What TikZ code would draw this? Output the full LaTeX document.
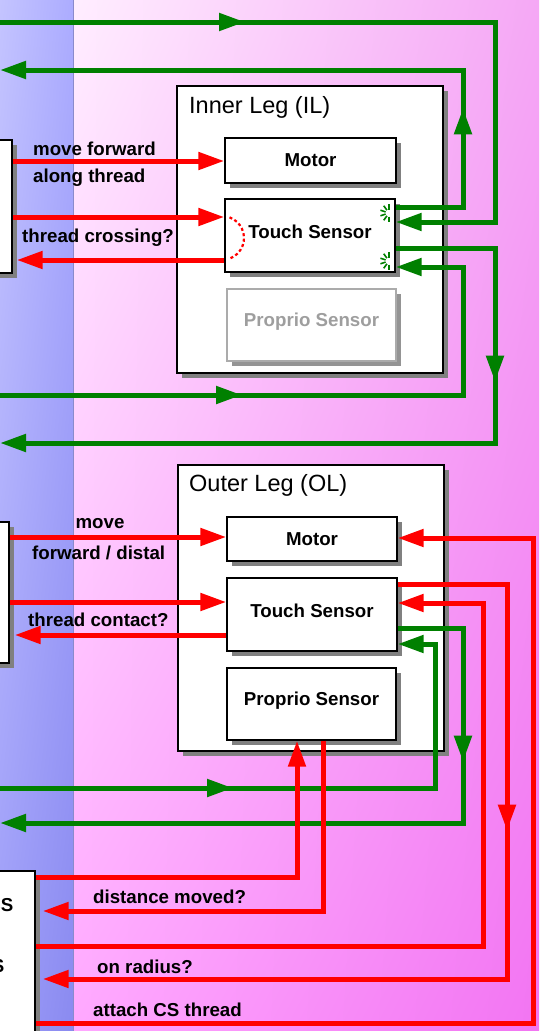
\documentclass[tikz,border=0pt]{standalone}
\usepackage{fontspec}
\setmainfont{Liberation Sans}
\usetikzlibrary{arrows.meta,shadows,shadings,decorations.markings}
\definecolor{gcol}{HTML}{008000}
\definecolor{rcol}{HTML}{FF0000}
\definecolor{pUL}{HTML}{FFEEFF}
\definecolor{pUR}{HTML}{F5A8F5}
\definecolor{pLL}{HTML}{FFA8FF}
\definecolor{pLR}{HTML}{F274F2}
\definecolor{bUL}{HTML}{C4C4FF}
\definecolor{bUR}{HTML}{ACACFF}
\definecolor{bLL}{HTML}{9C9CF8}
\definecolor{bLR}{HTML}{8A8AF0}
\newcommand\lblfont{\fontsize{18.7}{22}\selectfont\bfseries}
\newcommand\ttlfont{\fontsize{23.5}{27}\selectfont}
\tikzset{
  box/.style={draw=black, line width=1.4pt, fill=white, inner sep=0pt, font=\lblfont,
    drop shadow={shadow xshift=5pt, shadow yshift=-5pt, fill=black!50, opacity=1}},
  greybox/.style={draw=black!33, line width=1.4pt, fill=white, inner sep=0pt, font=\lblfont, text=black!38,
    drop shadow={shadow xshift=5pt, shadow yshift=-5pt, fill=black!42, opacity=1}},
  gl/.style={color=gcol, line width=5pt},
  rl/.style={color=rcol, line width=5pt},
  tip/.style={-{Triangle[length=26pt,width=17pt]}},
  mid/.style={postaction={decorate, decoration={markings, mark=at position #1 with {\arrow{Triangle[length=26pt,width=17pt]}}}}},
  lbl/.style={font=\lblfont, inner sep=0pt, anchor=base west},
  ttl/.style={font=\ttlfont, inner sep=0pt, anchor=base west},
  burst/.style={line width=2.2pt, dash pattern=on 3pt off 2.5pt},
  spark/.style={gcol, line width=1.6pt},
}
\begin{document}
\begin{tikzpicture}[x=1pt,y=-1pt]
\useasboundingbox (0,0) rectangle (539,1031);
\clip (0,0) rectangle (539,1031);
% background
\shade[upper left=bUL, upper right=bUR, lower left=bLL, lower right=bLR] (0,0) rectangle (73,1031);
\shade[upper left=pUL, upper right=pUR, lower left=pLL, lower right=pLR] (73,0) rectangle (539,1031);
\draw[line width=0.8pt, color=black!20!bUR] (73,0) -- (73,1031);

% left boxes
\node[box, minimum width=42pt, minimum height=133pt] (L1) at (-9,206.5) {};
\node[box, minimum width=40pt, minimum height=141pt] (L2) at (-11,592.5) {};
\node[box, minimum width=50pt, minimum height=174pt] (L3) at (10,958) {};
\node[font=\lblfont, inner sep=0pt, anchor=base east] (cs1) at (13.5,911) {CS};
\node[font=\lblfont, inner sep=0pt, anchor=base east] (cs2) at (4.5,972) {S};

% Inner leg
\node[box, minimum width=266pt, minimum height=287pt] (IL) at (310,229.5) {};
\node[ttl] (ILtitle) at (189,113) {Inner Leg (IL)};
\node[box, minimum width=171pt, minimum height=45pt] (ILm) at (310.5,160.5) {Motor};
\node[box, minimum width=170pt, minimum height=73pt, text depth=8pt] (ILt) at (310,235.5) {Touch Sensor};
\node[greybox, minimum width=169pt, minimum height=72pt, text height=13.4pt, text depth=11pt] (ILp) at (311.5,325) {Proprio Sensor};

% Outer leg
\node[box, minimum width=266pt, minimum height=286pt] (OL) at (311,608) {};
\node[ttl] (OLtitle) at (189,491) {Outer Leg (OL)};
\node[box, minimum width=170pt, minimum height=44pt] (OLm) at (312,539) {Motor};
\node[box, minimum width=170pt, minimum height=73pt, text depth=8pt] (OLt) at (312,614.5) {Touch Sensor};
\node[box, minimum width=169pt, minimum height=72pt, text height=13.4pt, text depth=11pt] (OLp) at (311.5,704) {Proprio Sensor};

% free ends on the left edge
\coordinate (g1) at (-3,22);
\coordinate (g2) at (0,70);
\coordinate (g3) at (0,443);
\coordinate (g4) at (-3,395);
\coordinate (g5) at (-3,788);
\coordinate (g6) at (0,823);

% green connectors, inner leg
\draw[gl, tip, mid=248pt] (g1) -- (495,22) -- (495,222) -- (ILt.east |- 0,222);
\draw[gl, tip, mid=166pt] (ILt.east |- 0,207) -- (463,207) -- (463,70) -- (g2);
\draw[gl, tip, mid=233pt] (ILt.east |- 0,248) -- (495,248) -- (495,443) -- (g3);
\draw[gl, tip, mid=245pt] (g4) -- (463,395) -- (463,267) -- (ILt.east |- 0,267);

% green connectors, outer leg
\draw[gl, tip, mid=236pt] (g5) -- (435,788) -- (435,644) -- (OLt.east |- 0,644);
\draw[gl, tip, mid=199pt] (OLt.east |- 0,628) -- (463,628) -- (463,823) -- (g6);

% red connectors, inner leg
\draw[rl, tip] (L1.east |- 0,161) -- (ILm.west |- 0,161);
\draw[rl, tip] (L1.east |- 0,217) -- (ILt.west |- 0,217);
\draw[rl, tip, shorten >=4pt] (ILt.west |- 0,260) -- (L1.east |- 0,260);

% red connectors, outer leg
\draw[rl, tip] (L2.east |- 0,537) -- (OLm.west |- 0,537);
\draw[rl, tip] (L2.east |- 0,602) -- (OLt.west |- 0,602);
\draw[rl, tip, shorten >=5pt] (OLt.west |- 0,635) -- (L2.east |- 0,635);
\draw[rl, tip] (L3.east |- 0,877) -- (297,877) -- (OLp.south -| 297,0);
\draw[rl, tip, shorten >=7pt] (OLp.south -| 323,0) -- (323,911) -- (L3.east |- 0,911);
\draw[rl, tip] (L3.east |- 0,946) -- (483,946) -- (483,603) -- (OLt.east |- 0,603);
\draw[rl, tip, shorten >=7pt, mid=356pt] (OLt.east |- 0,584) -- (507,584) -- (507,979) -- (L3.east |- 0,979);
\draw[rl, tip] (L3.east |- 0,1023) -- (533,1023) -- (533,538) -- (OLm.east |- 0,538);

% bursts on the inner touch sensor
\draw[burst, rcol] (222,238) ++(-70:22) arc[start angle=-70, end angle=70, radius=22];
\foreach \a in {90,126,162,198,234,270} {
  \draw[spark] (389,213) ++(\a:3.5) -- ++(\a:5.5);
  \draw[spark] (389,261) ++(\a:3.5) -- ++(\a:5.5);
}

% labels
\node[lbl] (la1) at (33,155) {move forward};
\node[lbl] (la2) at (33,182) {along thread};
\node[lbl] (la3) at (22,242) {thread crossing?};
\node[font=\lblfont, inner sep=0pt, anchor=base] (lb1) at (100,528) {move};
\node[lbl] (lb2) at (32,559) {forward / distal};
\node[lbl] (lb3) at (28,626) {thread contact?};
\node[lbl] (lc1) at (93,903) {distance moved?};
\node[lbl] (lc2) at (97,973) {on radius?};
\node[lbl] (lc3) at (93,1016) {attach CS thread};
\end{tikzpicture}
\end{document}
